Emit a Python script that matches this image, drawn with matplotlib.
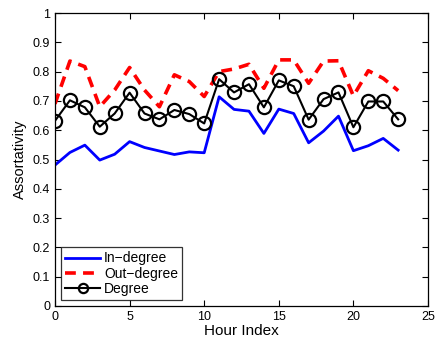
import matplotlib
matplotlib.use("Agg")
import matplotlib.pyplot as plt

hours = list(range(24))
in_degree = [0.481, 0.524, 0.549, 0.498, 0.518, 0.561, 0.541, 0.529, 0.517, 0.526, 0.523, 0.714,
             0.671, 0.665, 0.589, 0.672, 0.657, 0.557, 0.597, 0.648, 0.530, 0.547, 0.572, 0.532]
out_degree = [0.690, 0.836, 0.817, 0.680, 0.737, 0.814, 0.737, 0.680, 0.789, 0.766, 0.715, 0.800,
              0.809, 0.825, 0.743, 0.840, 0.840, 0.760, 0.836, 0.837, 0.717, 0.803, 0.777, 0.735]
degree = [0.632, 0.702, 0.678, 0.612, 0.657, 0.728, 0.657, 0.637, 0.669, 0.655, 0.623, 0.774,
          0.729, 0.757, 0.678, 0.770, 0.750, 0.636, 0.706, 0.729, 0.610, 0.698, 0.698, 0.637]

plt.rcParams['font.family'] = ['Liberation Sans', 'DejaVu Sans']
fig = plt.figure(figsize=(4.38, 3.42), dpi=100)
ax = fig.add_axes([55/438, 1 - 306/342, 373/438, 293/342])

ax.plot(hours, in_degree, color='#0000ff', lw=2, label='In\u2212degree')
ax.plot(hours, out_degree, color='#ff0000', lw=2.6, ls=(0, (3, 2)), label='Out\u2212degree')
ax.plot(hours, degree, color='black', lw=1.5, marker='o', ms=9.5, mfc='none', mec='black',
        mew=1.6, label='Degree')

ax.set_xlim(0, 25)
ax.set_ylim(0, 1)
ax.set_xticks([0, 5, 10, 15, 20, 25])
ax.set_yticks([i / 10 for i in range(11)])
ax.set_yticklabels(['0', '0.1', '0.2', '0.3', '0.4', '0.5', '0.6', '0.7', '0.8', '0.9', '1'])
ax.tick_params(direction='in', top=True, right=True, labelsize=9, length=4, width=0.8)
for s in ax.spines.values():
    s.set_linewidth(0.9)
ax.set_xlabel('Hour Index', fontsize=11, labelpad=1)
ax.set_ylabel('Assortativity', fontsize=10.5, labelpad=4)

leg = ax.legend(loc='lower left', bbox_to_anchor=(0.005, 0.005), fontsize=10, frameon=True,
                fancybox=False, edgecolor='black', handlelength=2.5, handletextpad=0.3,
                borderpad=0.3, labelspacing=0.1, borderaxespad=0.3, markerscale=0.7)
leg.get_frame().set_linewidth(0.9)

fig.savefig('out.png', dpi=100)
